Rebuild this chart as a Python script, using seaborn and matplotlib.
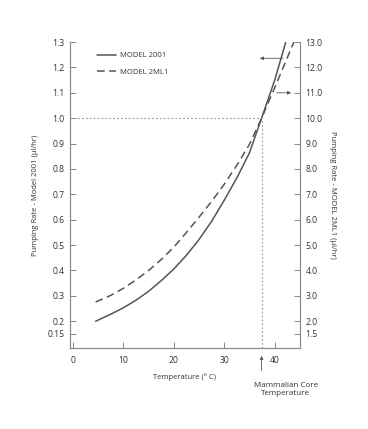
import matplotlib
matplotlib.use("Agg")
import matplotlib.pyplot as plt
import seaborn as sns
import pandas as pd

# temperatures (deg C) and pumping rates
temp_2001 = [4.5, 7.5, 10, 12.5, 15, 17.5, 20, 22.5, 25, 27.5, 30, 32.5, 35, 37.4, 40, 42.2]
rate_2001 = [0.20, 0.228, 0.253, 0.283, 0.318, 0.36, 0.406, 0.46, 0.522, 0.594, 0.677,
             0.765, 0.864, 1.0, 1.15, 1.30]

temp_2ml1 = [4.5, 7.5, 10, 12.5, 15, 17.5, 20, 22.5, 25, 27.5, 30, 32.5, 35, 37.4, 40, 43.8]
rate_2ml1 = [0.276, 0.302, 0.33, 0.363, 0.40, 0.443, 0.492, 0.55, 0.61, 0.672, 0.74,
             0.815, 0.897, 1.0, 1.12, 1.30]

left_ticks = [0.15, 0.2, 0.3, 0.4, 0.5, 0.6, 0.7, 0.8, 0.9, 1.0, 1.1, 1.2, 1.3]
left_labels = ["0.15", "0.2", "0.3", "0.4", "0.5", "0.6", "0.7", "0.8", "0.9",
               "1.0", "1.1", "1.2", "1.3"]
right_ticks = [1.5, 2, 3, 4, 5, 6, 7, 8, 9, 10, 11, 12, 13]
right_labels = ["1.5", "2.0", "3.0", "4.0", "5.0", "6.0", "7.0", "8.0", "9.0",
                "10.0", "11.0", "12.0", "13.0"]
x_ticks = [0, 10, 20, 30, 40]
core_temp = 37.4

sns.set_style("ticks")
plt.rcParams['font.family'] = ['Open Sans', 'DejaVu Sans']

df = pd.concat([
    pd.DataFrame({"Temperature": temp_2001, "Rate": rate_2001, "Model": "MODEL 2001"}),
    pd.DataFrame({"Temperature": temp_2ml1, "Rate": rate_2ml1, "Model": "MODEL 2ML1"}),
])

line_col = "#555555"
axis_col = "#8a8a8a"
text_col = "#333333"

fig = plt.figure(figsize=(3.68, 4.29), dpi=100)
ax = fig.add_axes([0.190, 0.189, 0.625, 0.713])

sns.lineplot(data=df, x="Temperature", y="Rate", style="Model",
             color=line_col, linewidth=1.1, ax=ax,
             dashes={"MODEL 2001": "", "MODEL 2ML1": (5, 3)})

ax.set_xlim(-0.6, 45)
ax.set_ylim(0.095, 1.3)

# reference lines at the core temperature
ax.plot([-0.6, core_temp], [1.0, 1.0], ls=(0, (1.5, 2)), color="#999999", lw=0.8)
ax.plot([core_temp, core_temp], [0.095, 1.0], ls=(0, (1.5, 2)), color="#999999", lw=0.8)

ax.set_yticks(left_ticks)
ax.set_yticklabels(left_labels)
ax.set_xticks(x_ticks)

ax.set_xlabel("Temperature (° C)", fontsize=5.5, color=text_col, labelpad=6)
ax.set_ylabel("Pumping Rate - Model 2001 (µl/hr)", fontsize=5.5, color=text_col, labelpad=6)

ax2 = ax.twinx()
ax2.set_ylim(0.95, 13.0)
ax2.set_yticks(right_ticks)
ax2.set_yticklabels(right_labels)
ax2.set_ylabel("Pumping Rate - MODEL 2ML1 (µl/hr)", fontsize=5.5, color=text_col,
               rotation=-90, labelpad=10)

for a in (ax, ax2):
    a.tick_params(direction="in", length=4, width=0.7, color=axis_col,
                  labelsize=6.2, labelcolor=text_col, pad=4)
    for s in a.spines.values():
        s.set_color(axis_col)
        s.set_linewidth(0.8)
    a.spines["top"].set_visible(False)
ax.tick_params(axis="x", pad=6)

ax.legend(loc="upper left", bbox_to_anchor=(0.09, 0.99), frameon=False,
          fontsize=5.5, handlelength=2.4, labelspacing=1.2, handletextpad=0.6,
          labelcolor=text_col)

# arrows pointing to each curve's axis
ax.annotate("", xy=(36.5, 1.236), xytext=(42.2, 1.236),
            arrowprops=dict(arrowstyle="-|>", color=line_col, lw=0.6,
                            mutation_scale=5))
ax.annotate("", xy=(43.8, 1.1), xytext=(39.8, 1.1),
            arrowprops=dict(arrowstyle="-|>", color=line_col, lw=0.6,
                            mutation_scale=5))

# core temperature marker below the axis
ax.annotate("", xy=(core_temp, 0.075), xytext=(core_temp, -0.005),
            arrowprops=dict(arrowstyle="-|>", color=line_col, lw=0.6,
                            mutation_scale=5), annotation_clip=False)
ax.text(42.2, -0.04, "Mammalian Core\nTemperature", ha="center", va="top",
        fontsize=5.8, color=text_col, linespacing=1.1)

fig.savefig("out.png", dpi=100)
